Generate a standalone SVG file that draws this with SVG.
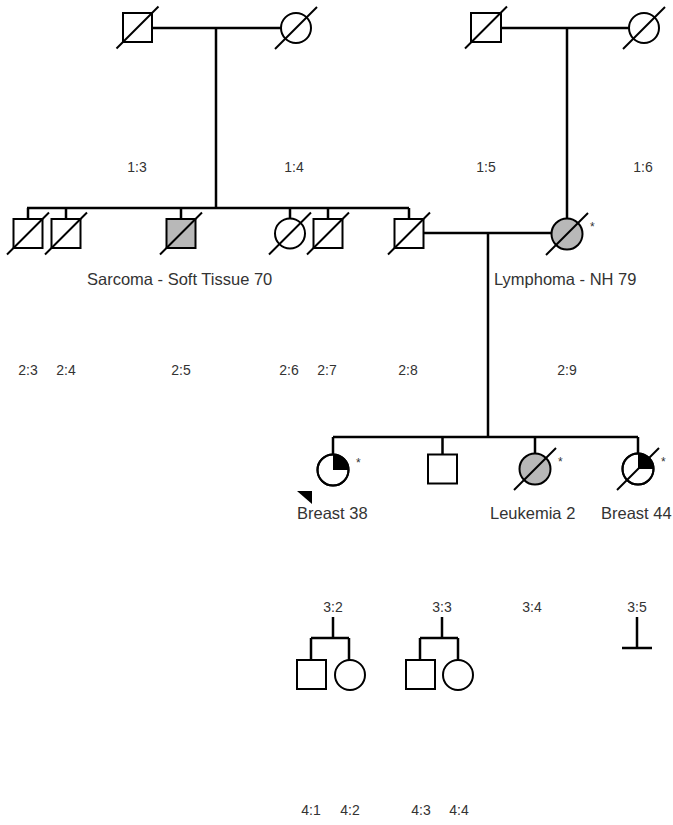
<svg xmlns="http://www.w3.org/2000/svg" width="673" height="825" viewBox="0 0 673 825">
<style>
.sym{fill:#fff;stroke:#000;stroke-width:2}
.aff{fill:#b8b8b8;stroke:#000;stroke-width:2}
.q{fill:#000;stroke:none}
.sl{stroke:#000;stroke-width:2;fill:none}
.ln{stroke:#000;stroke-width:2.5;fill:none}
.id{font-family:"Liberation Sans",Arial,sans-serif;font-size:14px;fill:#333;text-anchor:middle}
.lb{font-family:"Liberation Sans",Arial,sans-serif;font-size:16.5px;fill:#333}
.ast{font-family:"Liberation Sans",Arial,sans-serif;font-size:12px;fill:#333}
</style>
<rect width="673" height="825" fill="#fff"/>
<g id="connectors">
<path class="ln" d="M152,28H281M216,28V208"/>
<path class="ln" d="M501,28H629M567,28V219"/>
<path class="ln" d="M27,208H409M28,208V219M66,208V219M181,208V219M290,208V218M328,208V219M409,208V219"/>
<path class="ln" d="M423.5,233H551.5M488,233V437"/>
<path class="ln" d="M333,437H638M333,437V454.5M442.5,437V454.5M535,437V453.5M638,437V453.5"/>
<path class="ln" d="M333,617V638M311,638H349M311,638V660M349,638V660"/>
<path class="ln" d="M442,617V638M420,638H458M420,638V660M458,638V660"/>
<path class="ln" d="M637,617V648M622,648H652"/>
</g>
<g id="n1_3"><rect class="sym" x="123" y="13" width="29" height="29"/><line class="sl" x1="116.5" y1="48.5" x2="158.5" y2="6.5"/><text class="id" x="137" y="172">1:3</text></g>
<g id="n1_4"><circle class="sym" cx="296" cy="28" r="15"/><line class="sl" x1="275" y1="49" x2="317" y2="7"/><text class="id" x="294" y="172">1:4</text></g>
<g id="n1_5"><rect class="sym" x="471" y="13" width="30" height="29"/><line class="sl" x1="465" y1="48.5" x2="507" y2="6.5"/><text class="id" x="486" y="172">1:5</text></g>
<g id="n1_6"><circle class="sym" cx="644" cy="28" r="15"/><line class="sl" x1="623" y1="49" x2="665" y2="7"/><text class="id" x="643" y="172">1:6</text></g>
<g id="n2_3"><rect class="sym" x="13.5" y="219" width="29" height="29"/><line class="sl" x1="7" y1="254.5" x2="49" y2="212.5"/><text class="id" x="28" y="375">2:3</text></g>
<g id="n2_4"><rect class="sym" x="51.5" y="219" width="29" height="29"/><line class="sl" x1="45" y1="254.5" x2="87" y2="212.5"/><text class="id" x="66" y="375">2:4</text></g>
<g id="n2_5"><rect class="aff" x="166.5" y="219" width="29" height="29"/><line class="sl" x1="160" y1="254.5" x2="202" y2="212.5"/><text class="id" x="181" y="375">2:5</text><text class="lb" x="87" y="285">Sarcoma - Soft Tissue 70</text></g>
<g id="n2_6"><circle class="sym" cx="290" cy="233.5" r="15"/><line class="sl" x1="269" y1="254.5" x2="311" y2="212.5"/><text class="id" x="289" y="375">2:6</text></g>
<g id="n2_7"><rect class="sym" x="313.5" y="219" width="29" height="29"/><line class="sl" x1="307" y1="254.5" x2="349" y2="212.5"/><text class="id" x="327" y="375">2:7</text></g>
<g id="n2_8"><rect class="sym" x="394.5" y="219" width="29" height="29"/><line class="sl" x1="388" y1="254.5" x2="430" y2="212.5"/><text class="id" x="408" y="375">2:8</text></g>
<g id="n2_9"><circle class="aff" cx="567" cy="234" r="15.5"/><line class="sl" x1="546" y1="255" x2="588" y2="213"/><text class="ast" x="590" y="231">*</text><text class="lb" x="494" y="285">Lymphoma - NH 79</text><text class="id" x="567" y="375">2:9</text></g>
<g id="n3_2"><circle class="sym" cx="333" cy="470" r="15.5"/><path class="q" d="M333,470V454.5A15.5,15.5 0 0 1 348.5,470Z"/><circle cx="333" cy="470" r="15.5" fill="none" stroke="#000" stroke-width="2"/><text class="ast" x="356" y="467">*</text><polygon fill="#000" points="297,491 312,491 312,504"/><text class="lb" x="297" y="519">Breast 38</text><text class="id" x="333" y="612">3:2</text></g>
<g id="n3_3"><rect class="sym" x="428" y="454.5" width="29" height="29"/><text class="id" x="442" y="612">3:3</text></g>
<g id="n3_4"><circle class="aff" cx="535" cy="469" r="15.5"/><line class="sl" x1="514" y1="490" x2="556" y2="448"/><text class="ast" x="558" y="466">*</text><text class="lb" x="490" y="519">Leukemia 2</text><text class="id" x="532" y="612">3:4</text></g>
<g id="n3_5"><circle class="sym" cx="638" cy="469" r="15.5"/><path class="q" d="M638,469V453.5A15.5,15.5 0 0 1 653.5,469Z"/><circle cx="638" cy="469" r="15.5" fill="none" stroke="#000" stroke-width="2"/><line class="sl" x1="617" y1="490" x2="659" y2="448"/><text class="ast" x="661" y="466">*</text><text class="lb" x="601" y="519">Breast 44</text><text class="id" x="637" y="612">3:5</text></g>
<g id="n4_1"><rect class="sym" x="297" y="660" width="29" height="29"/><text class="id" x="311" y="815">4:1</text></g>
<g id="n4_2"><circle class="sym" cx="350" cy="675" r="15"/><text class="id" x="350" y="815">4:2</text></g>
<g id="n4_3"><rect class="sym" x="406" y="660" width="29" height="29"/><text class="id" x="421" y="815">4:3</text></g>
<g id="n4_4"><circle class="sym" cx="458" cy="675" r="15"/><text class="id" x="459" y="815">4:4</text></g>
</svg>
